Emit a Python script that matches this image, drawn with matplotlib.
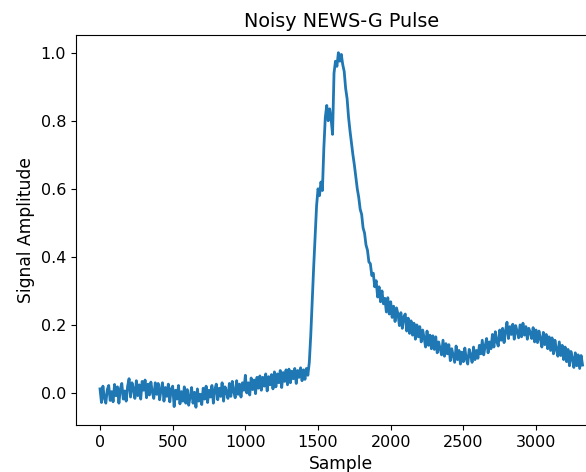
import numpy as np
import matplotlib
matplotlib.use("Agg")
import matplotlib.pyplot as plt

# pulse amplitude, one value every 10 samples
amplitude = [
    0.012, -0.028, 0.020, -0.015, -0.030, 0.010, 0.022, -0.022, 0.004, -0.026,
    0.025, -0.008, 0.018, -0.030, 0.012, 0.028, -0.018, 0.006, -0.024, 0.020,
    0.042, -0.012, 0.030, 0.012, -0.016, 0.036, -0.008, 0.024, -0.018, 0.034,
    0.008, 0.038, -0.014, 0.026, -0.006, 0.032, 0.002, -0.016, 0.030, -0.004,
    0.028, -0.020, 0.010, 0.030, -0.024, 0.016, -0.010, 0.026, -0.026, 0.012,
    0.020, -0.040, 0.008, -0.018, 0.022, -0.032, 0.004, -0.024, 0.018, -0.030,
    0.010, -0.036, -0.012, 0.016, -0.030, 0.002, -0.042, 0.012, -0.024, -0.004,
    -0.034, 0.014, -0.018, 0.020, -0.028, 0.008, -0.012, 0.022, -0.030, 0.010,
    0.026, -0.020, 0.014, -0.010, 0.030, -0.024, 0.018, 0.004, -0.016, 0.028,
    -0.010, 0.034, 0.004, -0.014, 0.036, -0.004, 0.026, -0.012, 0.030, 0.008,
    0.052, 0.000, 0.030, -0.006, 0.044, 0.010, 0.038, -0.002, 0.046, 0.014,
    0.050, 0.008, 0.046, 0.020, 0.056, 0.006, 0.048, 0.024, 0.054, 0.012,
    0.062, 0.018, 0.056, 0.030, 0.066, 0.016, 0.060, 0.034, 0.068, 0.024,
    0.070, 0.030, 0.064, 0.042, 0.072, 0.028, 0.066, 0.046, 0.074, 0.036,
    0.068, 0.040, 0.072, 0.052, 0.090, 0.170, 0.270, 0.370, 0.460, 0.550,
    0.600, 0.580, 0.620, 0.595, 0.720, 0.810, 0.845, 0.800, 0.835, 0.805,
    0.760, 0.940, 0.975, 0.960, 1.000, 0.975, 0.995, 0.965, 0.945, 0.895,
    0.865, 0.810, 0.770, 0.735, 0.700, 0.670, 0.635, 0.600, 0.575, 0.540,
    0.525, 0.485, 0.470, 0.435, 0.420, 0.385, 0.380, 0.345, 0.352, 0.312,
    0.330, 0.282, 0.312, 0.268, 0.300, 0.262, 0.278, 0.238, 0.280, 0.232,
    0.268, 0.222, 0.255, 0.210, 0.250, 0.232, 0.198, 0.236, 0.190, 0.224,
    0.232, 0.182, 0.220, 0.175, 0.212, 0.170, 0.205, 0.158, 0.200, 0.165,
    0.195, 0.150, 0.185, 0.162, 0.135, 0.182, 0.140, 0.170, 0.130, 0.168,
    0.128, 0.165, 0.118, 0.150, 0.130, 0.112, 0.155, 0.108, 0.145, 0.115,
    0.142, 0.095, 0.130, 0.110, 0.090, 0.138, 0.098, 0.125, 0.085, 0.120,
    0.092, 0.132, 0.100, 0.085, 0.128, 0.112, 0.090, 0.135, 0.098, 0.125,
    0.102, 0.140, 0.115, 0.155, 0.112, 0.138, 0.160, 0.118, 0.150, 0.130,
    0.172, 0.135, 0.180, 0.150, 0.138, 0.185, 0.155, 0.190, 0.148, 0.182,
    0.208, 0.160, 0.195, 0.172, 0.202, 0.158, 0.198, 0.180, 0.162, 0.200,
    0.165, 0.205, 0.170, 0.195, 0.158, 0.190, 0.178, 0.160, 0.192, 0.150,
    0.185, 0.148, 0.182, 0.160, 0.135, 0.178, 0.142, 0.172, 0.130, 0.165,
    0.125, 0.162, 0.115, 0.155, 0.128, 0.108, 0.150, 0.110, 0.140, 0.098,
    0.135, 0.092, 0.128, 0.080, 0.122, 0.102, 0.075, 0.118, 0.080, 0.112,
    0.072, 0.110, 0.082,
]
samples = np.arange(len(amplitude)) * 10

fig = plt.figure(figsize=(5.86, 4.72), dpi=100)
# the reference is cropped on the right, so the axes run past the canvas edge
ax = fig.add_axes([0.1295, 0.0996, 0.9058, 0.8263])
ax.plot(samples, amplitude, color="#1f77b4", linewidth=2.0)
ax.set_title("Noisy NEWS-G Pulse", fontsize=13.8)
ax.set_xlabel("Sample", fontsize=12.3)
ax.set_ylabel("Signal Amplitude", fontsize=12.3)
ax.tick_params(labelsize=11.5)

fig.savefig("out.png", dpi=100)
